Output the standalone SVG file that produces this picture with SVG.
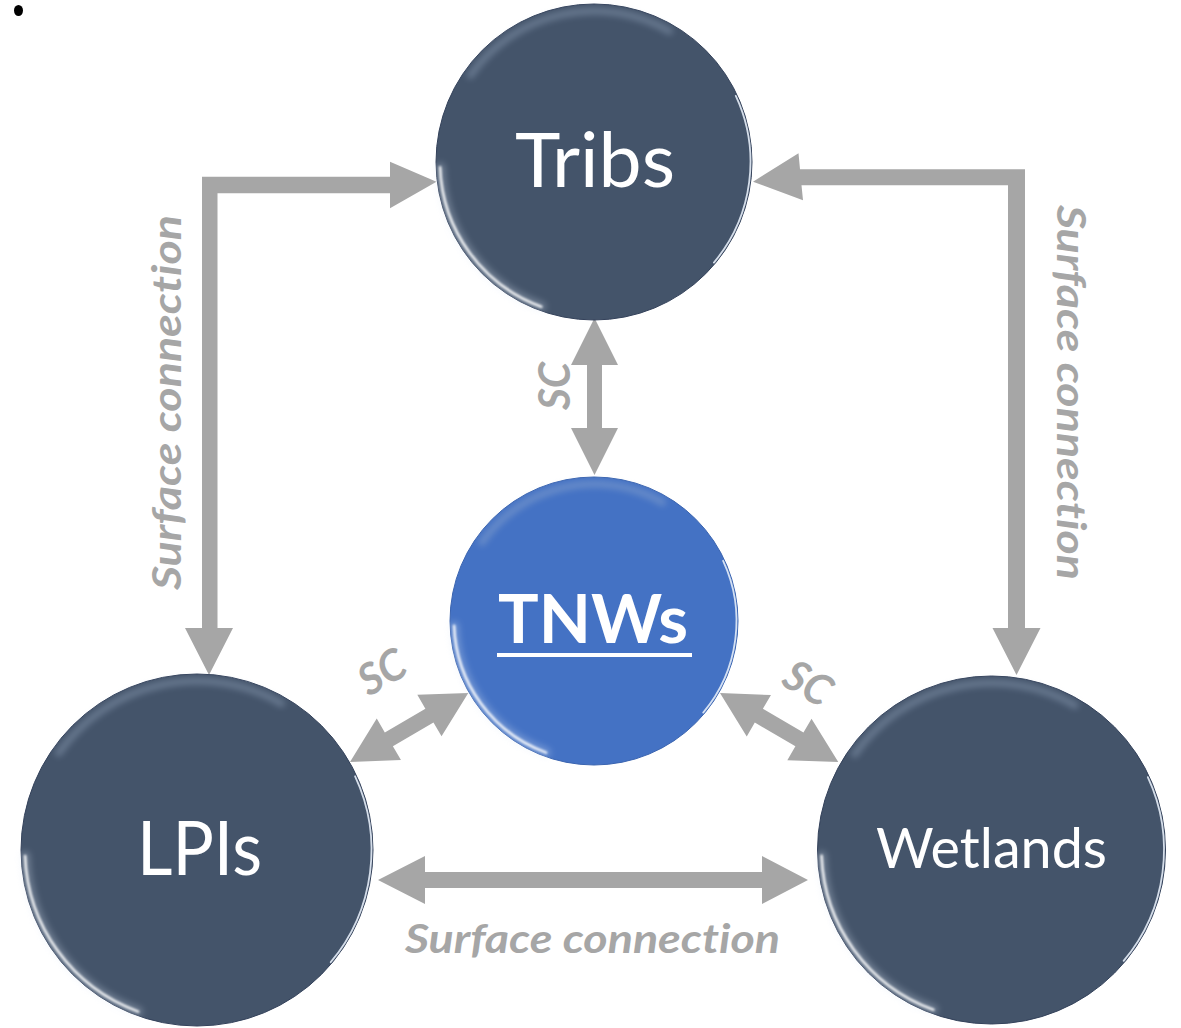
<svg xmlns="http://www.w3.org/2000/svg" width="1181" height="1028" viewBox="0 0 1181 1028">
  <defs>
    <style>
      .dark { fill: #44546A; stroke: #33415a; stroke-width: 1; }
      .blue { fill: #4472C4; stroke: #3a64b0; stroke-width: 1; }
      .glow { fill: none; stroke: #dbe6f5; stroke-width: 10; opacity: 0.28; filter: url(#blur3); stroke-linecap: round; }
      .shine { fill: none; stroke: #ffffff; stroke-width: 2.6; opacity: 0.9; filter: url(#blur1); stroke-linecap: round; }
      .rim { fill: none; stroke: #e4ecf7; stroke-width: 1.8; opacity: 0.9; filter: url(#blur05); stroke-linecap: round; }
      .band { fill: none; stroke: #a9bbd3; stroke-width: 7; opacity: 0.35; filter: url(#blur3); stroke-linecap: round; }
      .label { font-family: Lato, "Open Sans", "Liberation Sans", sans-serif; fill: #ffffff; text-anchor: middle; font-variant-ligatures: none; }
      .conn { fill: #A6A6A6; }
      .note { font-family: Lato, "Open Sans", "Liberation Sans", sans-serif; font-weight: bold; font-style: italic; fill: #A6A6A6; text-anchor: middle; font-variant-ligatures: none; }
    </style>
    <filter id="blur05" x="-20%" y="-20%" width="140%" height="140%"><feGaussianBlur stdDeviation="0.5"/></filter>
    <filter id="blur1" x="-20%" y="-20%" width="140%" height="140%"><feGaussianBlur stdDeviation="1"/></filter>
    <filter id="blur3" x="-30%" y="-30%" width="160%" height="160%"><feGaussianBlur stdDeviation="3"/></filter>
    <!-- double-headed arrow laid along +x, 137 long -->
    <polygon id="dbl" points="0,0 45,-24 45,-8 92,-8 92,-24 137,0 92,24 92,8 45,8 45,24"/>
  </defs>

  <rect width="1181" height="1028" fill="#ffffff"/>
  <ellipse cx="18.5" cy="10.5" rx="4.5" ry="5.5" fill="#000000"/>

  <!-- connectors -->
  <g id="connectors">
    <polygon class="conn" points="202,176.7 390,176.7 390,161.7 436.5,181.7 390,208.3 390,193.3 217.5,193.3 217.5,628 233,628 209,675 185,628 202,628"/>
    <polygon class="conn" points="753,181.7 798.5,153.3 800,169.3 1025,169.3 1025,628 1040.5,628 1016.5,675 992.5,628 1008,628 1008,185.3 801.5,185.3 803,200.3"/>
    <polygon class="conn" points="594.5,318 618,365 602,365 602,428 618,428 594.5,475 571,428 587,428 587,365 571,365"/>
    <polygon class="conn" points="378,880 425,856 425,872 762,872 762,856 808,880 762,904 762,888 425,888 425,904"/>
    <use href="#dbl" class="conn" transform="translate(350,762) rotate(-30.3)"/>
    <use href="#dbl" class="conn" transform="translate(720,693) rotate(30.3)"/>

    <text class="note" font-size="40" textLength="375" lengthAdjust="spacingAndGlyphs" transform="translate(181,402.5) rotate(-90)">Surface connection</text>
    <text class="note" font-size="40" textLength="375" lengthAdjust="spacingAndGlyphs" transform="translate(1057,392.5) rotate(90)">Surface connection</text>
    <text class="note" font-size="40" textLength="375" lengthAdjust="spacingAndGlyphs" x="592.5" y="953">Surface connection</text>
    <text class="note" font-size="43" textLength="48" lengthAdjust="spacingAndGlyphs" transform="translate(570,386) rotate(-90)">SC</text>
    <text class="note" font-size="43" textLength="48" lengthAdjust="spacingAndGlyphs" transform="translate(389.5,685) rotate(-30)">SC</text>
    <text class="note" font-size="43" textLength="48" lengthAdjust="spacingAndGlyphs" transform="translate(800.5,696) rotate(30)">SC</text>
  </g>

  <!-- Tribs -->
  <g id="tribs" transform="translate(594,162)">
    <circle class="dark" r="158"/>
    <path class="band" d="M-123.7,-86.6 A151,151 0 0 1 75.5,-130.8"/>
    <path class="glow" d="M-52.7,144.7 A154,154 0 0 1 -153.9,5.4"/>
    <path class="shine" d="M-52.7,144.7 A154,154 0 0 1 -153.9,5.4"/>
    <path class="rim" d="M141.8,-66.1 A156.5,156.5 0 0 1 119.9,100.6"/>
    <text class="label" x="1" y="25" font-size="76" textLength="160" lengthAdjust="spacingAndGlyphs">Tribs</text>
  </g>

  <!-- TNWs -->
  <g id="tnws" transform="translate(594,621)">
    <circle class="blue" r="144"/>
    <path class="band" d="M-112.2,-78.6 A137,137 0 0 1 68.5,-118.6"/>
    <path class="glow" d="M-47.9,131.6 A140,140 0 0 1 -139.9,4.9"/>
    <path class="shine" d="M-47.9,131.6 A140,140 0 0 1 -139.9,4.9"/>
    <path class="rim" d="M129.1,-60.2 A142.5,142.5 0 0 1 109.2,91.6"/>
    <text class="label" x="-1" y="22" font-size="67" font-weight="bold" textLength="190" lengthAdjust="spacingAndGlyphs">TNWs</text>
    <rect x="-97" y="32" width="195" height="4" fill="#ffffff"/>
  </g>

  <!-- LPIs -->
  <g id="lpis" transform="translate(197,850)">
    <circle class="dark" r="176"/>
    <path class="band" d="M-138.4,-96.9 A169,169 0 0 1 84.5,-146.4"/>
    <path class="glow" d="M-58.8,161.6 A172,172 0 0 1 -171.9,6"/>
    <path class="shine" d="M-58.8,161.6 A172,172 0 0 1 -171.9,6"/>
    <path class="rim" d="M158.1,-73.7 A174.5,174.5 0 0 1 133.7,112.2"/>
    <text class="label" x="2.5" y="25" font-size="76" textLength="125" lengthAdjust="spacingAndGlyphs">LPIs</text>
  </g>

  <!-- Wetlands -->
  <g id="wetlands" transform="translate(991.5,850)">
    <circle class="dark" r="174"/>
    <path class="band" d="M-136.8,-95.8 A167,167 0 0 1 83.5,-144.6"/>
    <path class="glow" d="M-58.1,159.7 A170,170 0 0 1 -169.9,5.9"/>
    <path class="shine" d="M-58.1,159.7 A170,170 0 0 1 -169.9,5.9"/>
    <path class="rim" d="M156.3,-72.9 A172.5,172.5 0 0 1 132.1,110.9"/>
    <text class="label" x="0" y="18" font-size="57" textLength="231" lengthAdjust="spacingAndGlyphs">Wetlands</text>
  </g>
</svg>
